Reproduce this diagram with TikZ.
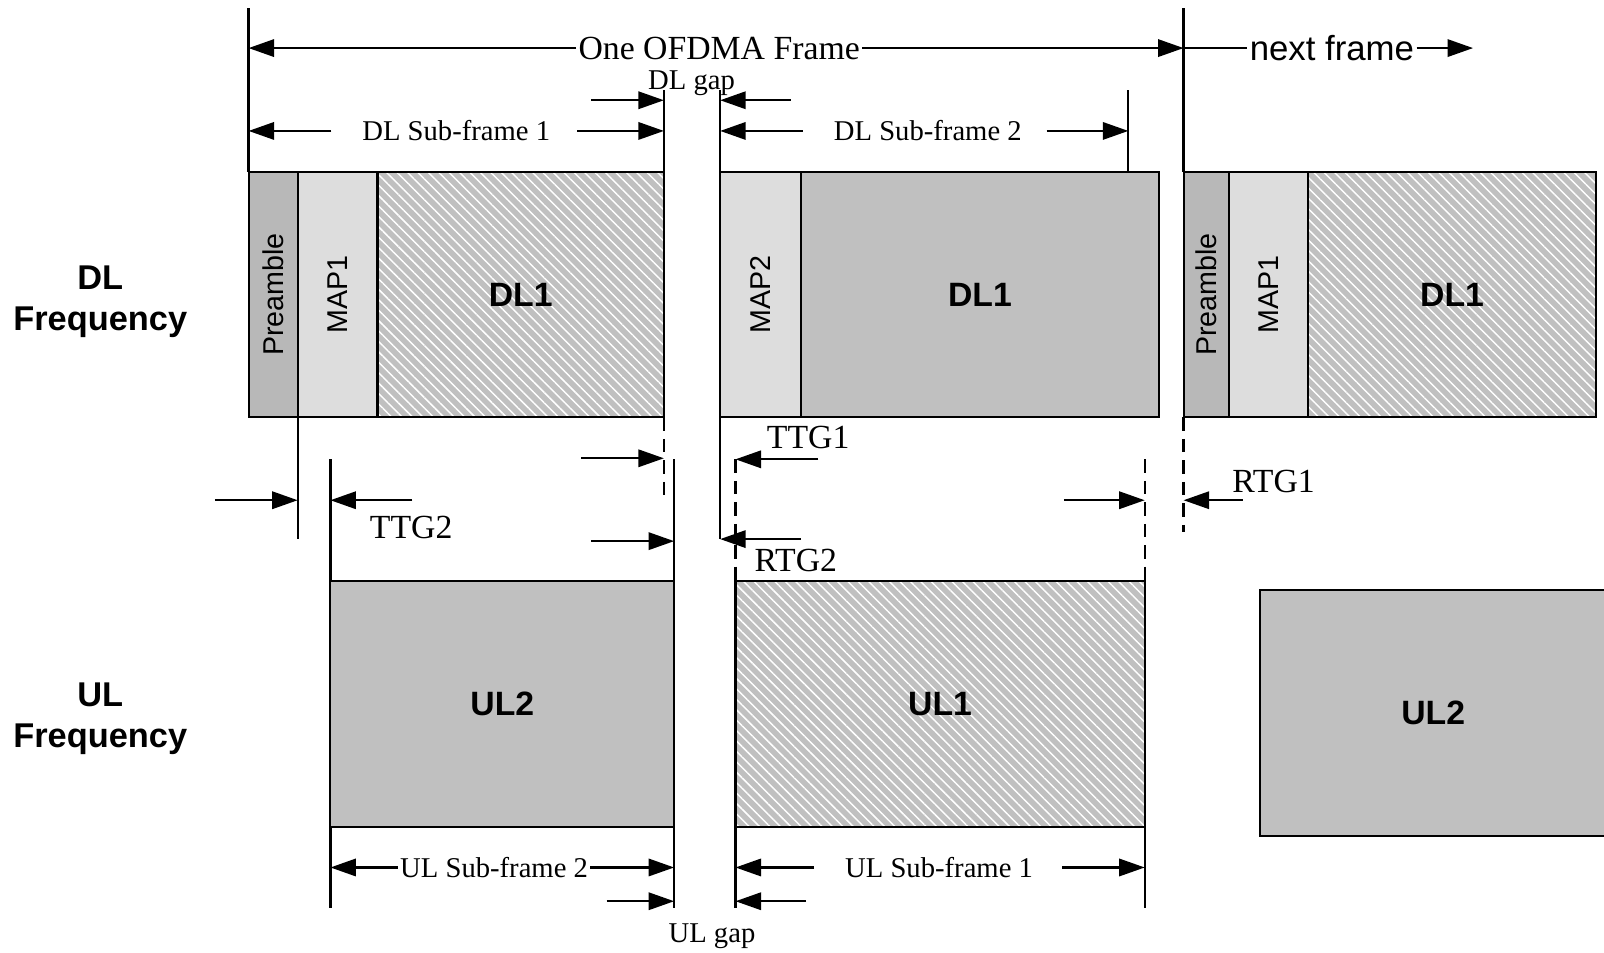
\documentclass[tikz,border=0pt]{standalone}
\usepackage{fontspec}
\setmainfont{Liberation Serif}
\setsansfont{Liberation Sans}
\usetikzlibrary{positioning, arrows.meta, patterns.meta}
\definecolor{preGray}{RGB}{184,184,184}
\definecolor{mapGray}{RGB}{221,221,221}
\definecolor{dataGray}{RGB}{192,192,192}

\begin{document}
\begin{tikzpicture}[
  x=0.5pt, y=-0.5pt,
  blk/.style={draw, line width=1pt, inner sep=0pt, outer sep=0pt, minimum height=120pt,
              font=\sffamily\bfseries\fontsize{16.5}{18}\selectfont},
  preblk/.style={blk, fill=preGray, font=\sffamily\fontsize{14}{16}\selectfont},
  mapblk/.style={blk, fill=mapGray, font=\sffamily\fontsize{14}{16}\selectfont},
  solidblk/.style={blk, fill=dataGray},
  hatchblk/.style={blk, preaction={fill=dataGray},
                   pattern={Lines[angle=-45, distance=3.6pt, line width=0.7pt]}, pattern color=white},
  tick/.style={line width=1.1pt},
  gapdash/.style={line width=1.1pt, dash pattern=on 6.5pt off 4pt},
  dim/.style={-{Triangle[length=12.5pt, width=8.5pt]}, line width=1.1pt},
  lbl/.style={inner sep=1pt, font=\fontsize{14}{16}\selectfont},
  big/.style={inner sep=1pt, font=\fontsize{16.5}{18}\selectfont},
  freq/.style={align=center, font=\sffamily\bfseries\fontsize{16.8}{20}\selectfont},
  node distance=0pt,
]
\useasboundingbox (0,0) rectangle (1568,931);

% DL sub-frames
\node[preblk, minimum width=24pt, anchor=north west] (pre1) at (243,168) {\rotatebox{90}{Preamble}};
\node[mapblk, minimum width=39pt, right=of pre1] (map1) {\rotatebox{90}{MAP1}};
\node[hatchblk, minimum width=140pt, right=of map1] (dl1a) {DL1};
\node[mapblk, minimum width=39.5pt, anchor=north west] (map2) at (704,168) {\rotatebox{90}{MAP2}};
\node[solidblk, minimum width=175pt, right=of map2] (dl1b) {DL1};
\node[preblk, minimum width=22pt, anchor=north west] (pre3) at (1157,168) {\rotatebox{90}{Preamble}};
\node[mapblk, minimum width=39pt, right=of pre3] (map3) {\rotatebox{90}{MAP1}};
\node[hatchblk, minimum width=140.5pt, right=of map3] (dl1c) {DL1};

% UL sub-frames
\node[solidblk, minimum width=168pt, anchor=north west] (ul2a) at (323,568) {UL2};
\node[hatchblk, minimum width=200pt, anchor=north west] (ul1) at (719,568) {UL1};
\node[solidblk, minimum width=169pt, anchor=north west] (ul2b) at (1232,577) {UL2};

\node[freq] (dlfreq) at (98,295) {DL\\Frequency};
\node[freq] (ulfreq) at (98,703) {UL\\Frequency};

% frame
\coordinate (f0) at (243,8);
\coordinate (f1) at (1157,8);
\draw[tick] (f0) -- (pre1.north west);
\draw[tick] (f1) -- (pre3.north west);
\node[big] (oneframe) at (703,47) {One OFDMA Frame};
\draw[dim] (oneframe.west) -- (oneframe.west -| f0);
\draw[dim] (oneframe.east) -- (oneframe.east -| f1);
\node[big, font=\sffamily\fontsize{17}{19}\selectfont] (nextf) at (1302,47) {next frame};
\coordinate (nextend) at (1440,47);
\draw[tick] (nextf.west -| f1) -- (nextf.west);
\draw[dim] (nextf.east) -- (nextend);

% DL gap and sub-frames
\coordinate (g1) at (649,88);
\coordinate (g2) at (704,88);
\draw[tick] (g1) -- (dl1a.north east);
\draw[tick] (g2) -- (map2.north west);
\node[lbl, inner sep=0pt] (dlgap) at (676,81) {DL gap};
\coordinate (dga) at (578,98);
\coordinate (dgb) at (773,98);
\draw[dim] (dga) -- (dga -| g1);
\draw[dim] (dgb) -- (dgb -| g2);

\node[lbl] (dsf1) at (446,128) {DL Sub-frame 1};
\draw[dim] ([xshift=-14pt]dsf1.west) -- (dsf1.west -| f0);
\draw[dim] ([xshift=12pt]dsf1.east) -- (dsf1.east -| g1);
\node[lbl] (dsf2) at (907,128) {DL Sub-frame 2};
\coordinate (s2) at (1103,88);
\draw[tick] (s2) -- (s2 |- dl1b.north);
\draw[dim] ([xshift=-14pt]dsf2.west) -- (dsf2.west -| g2);
\draw[dim] ([xshift=11pt]dsf2.east) -- (dsf2.east -| s2);

% transition gaps
\coordinate (p1) at (291,527);
\draw[tick] (pre1.south east) -- (p1);
\coordinate (t2a) at (210,489);
\draw[dim] (t2a) -- (t2a -| p1);
\coordinate (u0) at (323,449);
\coordinate (u0b) at (323,888);
\draw[tick] (u0) -- (ul2a.north west);
\draw[tick] (ul2a.south west) -- (u0b);
\coordinate (t2b) at (403,489);
\draw[dim] (t2b) -- (t2b -| u0);
\node[big] (ttg2) at (402,516) {TTG2};

\coordinate (g1d) at (649,490);
\draw[gapdash] (dl1a.south east) -- (g1d);
\coordinate (ta) at (568,448);
\draw[dim] (ta) -- (ta -| g1d);
\coordinate (u1) at (659,449);
\coordinate (u1b) at (659,888);
\draw[tick] (u1) -- (ul2a.north east);
\draw[tick] (ul2a.south east) -- (u1b);
\coordinate (tb) at (578,529);
\draw[dim] (tb) -- (tb -| u1);

\coordinate (g2d) at (704,527);
\draw[tick] (map2.south west) -- (g2d);
\coordinate (r2a) at (783,527);
\draw[dim] (r2a) -- (g2d);
\node[big] (rtg2) at (778,548) {RTG2};

\coordinate (u2) at (719,449);
\coordinate (u2b) at (719,888);
\draw[gapdash] (u2) -- (ul1.north west);
\draw[tick] (ul1.south west) -- (u2b);
\coordinate (t1a) at (800,449);
\draw[dim] (t1a) -- (u2);
\node[big] (ttg1) at (790,428) {TTG1};

\coordinate (u3) at (1119,449);
\coordinate (u3b) at (1119,888);
\draw[gapdash] (u3) -- (ul1.north east);
\draw[tick] (ul1.south east) -- (u3b);
\coordinate (r1a) at (1040,489);
\draw[dim] (r1a) -- (r1a -| u3);

\coordinate (f1d) at (1157,520);
\draw[gapdash] (pre3.south west) -- (f1d);
\coordinate (r1b) at (1215,489);
\draw[dim] (r1b) -- (r1b -| f1d);
\node[big] (rtg1) at (1245,471) {RTG1};

% UL sub-frames and gap
\node[lbl] (usf2) at (483,848) {UL Sub-frame 2};
\draw[dim] (usf2.west) -- (usf2.west -| u0b);
\draw[dim] (usf2.east) -- (usf2.east -| u1b);
\node[lbl] (usf1) at (918,848) {UL Sub-frame 1};
\draw[dim] ([xshift=-14pt]usf1.west) -- (usf1.west -| u2b);
\draw[dim] ([xshift=13pt]usf1.east) -- (usf1.east -| u3b);
\coordinate (uga) at (593,881);
\coordinate (ugb) at (788,881);
\draw[dim] (uga) -- (uga -| u1b);
\draw[dim] (ugb) -- (ugb -| u2b);
\node[lbl] (ulgap) at (696,915) {UL gap};
\end{tikzpicture}
\end{document}
